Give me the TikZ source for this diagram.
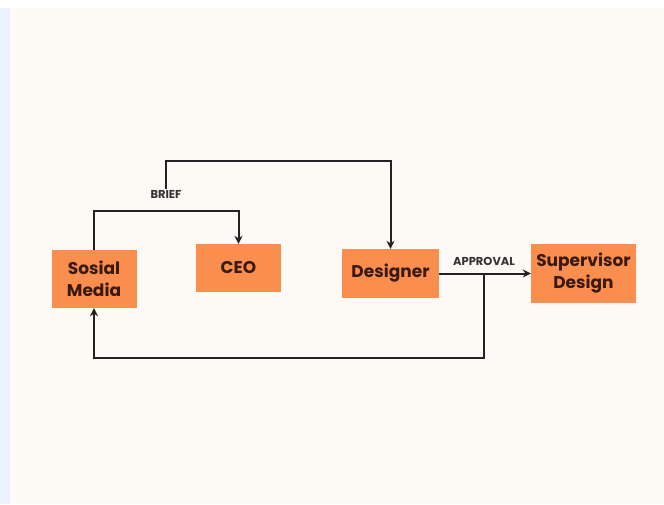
\documentclass[tikz,border=0pt]{standalone}
\usepackage{fontspec}
\setmainfont{Poppins}
\usetikzlibrary{arrows.meta}
\definecolor{bg}{HTML}{FDFAF6}
\definecolor{strip}{HTML}{EAF2FB}
\definecolor{boxfill}{HTML}{F98E4F}
\definecolor{boxtext}{HTML}{3A1A0E}
\definecolor{linec}{HTML}{222222}
\definecolor{labelc}{HTML}{333333}
\tikzset{
  box/.style={draw=none, fill=boxfill, text=boxtext, font=\fontsize{17}{22}\selectfont\bfseries, align=center, inner sep=0pt},
  conn/.style={draw=linec, line width=2pt, -{Stealth[length=8pt,width=8pt]}},
  lbl/.style={text=labelc, font=\fontsize{11.5}{13}\selectfont\bfseries, inner sep=1pt}
}
\begin{document}
\begin{tikzpicture}[x=1pt,y=-1pt]
\useasboundingbox (0,0) rectangle (664,504);
\fill[white] (0,0) rectangle (664,504);
\fill[bg] (10,8) rectangle (664,504);
\fill[strip] (0,8) rectangle (10,504);

\node[box, minimum width=85pt, minimum height=58pt] (sm) at (94,279) {Sosial\\Media};
\node[box, minimum width=85pt, minimum height=48pt] (ceo) at (238.5,268) {CEO};
\node[box, minimum width=97pt, minimum height=49pt] (des) at (390.5,273.5) {Designer};
\node[box, minimum width=105pt, minimum height=59pt] (sup) at (583.5,273.5) {Supervisor\\Design};

\node[lbl] (brief) at (166,194) {BRIEF};
\node[lbl] (appr) at (484,261) {APPROVAL};

\coordinate (j) at (484,273.5);

\draw[conn] (sm.north) |- (238.5,211) -- (ceo.north);
\draw[conn] (brief.north) |- (390.5,161) -- (des.north);
\draw[conn] (des.east) -- (sup.west);
\draw[conn] (j) |- (94,358) -- (sm.south);
\end{tikzpicture}
\end{document}
